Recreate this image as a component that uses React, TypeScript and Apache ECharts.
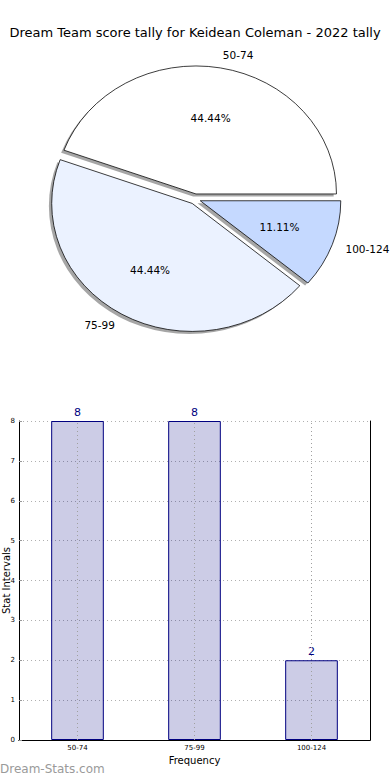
import React, { useEffect, useRef } from "react";
import * as echarts from "echarts";

const title = "Dream Team score tally for Keidean Coleman - 2022 tally";
const categories = ["50-74", "75-99", "100-124"];
const counts = [8, 8, 2];
const pieColors = ["#ffffff", "#ebf2ff", "#c5d9ff"];
const yMin = 0;
const yMax = 8;
const yInterval = 1;
const yAxisName = "Stat Intervals";
const xAxisName = "Frequency";
const watermark = "Dream-Stats.com";

const FONT = "DejaVu Sans";

export default function App() {
  const ref = useRef<HTMLDivElement>(null);

  useEffect(() => {
    document.body.style.margin = "0";
    if (!ref.current) return;
    const chart = echarts.init(ref.current, null, { renderer: "svg" });
    const total = counts.reduce((a, b) => a + b, 0);

    const pieRx = 140.5;
    const pieRy = 128;
    const pieCx = 195;
    const pieCy = 199;
    const explode = 0.04;
    const k = pieRy / pieRx;

    const renderPie = (params: any, api: any) => {
      const i = params.dataIndex;
      let start = 0;
      for (let j = 0; j < i; j++) start += counts[j];
      const v = api.value(0);
      const a1 = (start / total) * Math.PI * 2;
      const a2 = ((start + v) / total) * Math.PI * 2;
      const mid = (a1 + a2) / 2;
      const ox = explode * pieRx * Math.cos(mid);
      const oy = -explode * pieRx * Math.sin(mid);
      const vx = pieCx + ox;
      const vy = pieCy + k * oy;
      const cosm = Math.cos(mid);
      const sinm = Math.sin(mid);
      return {
        type: "group",
        children: [
          {
            type: "group",
            x: pieCx,
            y: pieCy,
            scaleY: k,
            children: [
              {
                type: "sector",
                shape: {
                  cx: ox - 2.8,
                  cy: oy + 2.6 / k,
                  r: pieRx,
                  r0: 0,
                  startAngle: -a2,
                  endAngle: -a1,
                  clockwise: true,
                },
                style: { fill: "rgba(77,77,77,0.5)" },
              },
              {
                type: "sector",
                shape: {
                  cx: ox,
                  cy: oy,
                  r: pieRx,
                  r0: 0,
                  startAngle: -a2,
                  endAngle: -a1,
                  clockwise: true,
                },
                style: {
                  fill: pieColors[i],
                  stroke: "#000000",
                  lineWidth: 0.8,
                  strokeNoScale: true,
                },
              },
            ],
          },
          {
            type: "text",
            x: vx + 1.1 * pieRx * cosm,
            y: vy - 1.1 * pieRy * sinm,
            style: {
              text: categories[i],
              fill: "#000",
              font: `10.5px "${FONT}"`,
              align: cosm > 0 ? "left" : "right",
              verticalAlign: "middle",
            },
          },
          {
            type: "text",
            x: vx + 0.6 * pieRx * cosm,
            y: vy - 0.6 * pieRy * sinm,
            style: {
              text: ((v / total) * 100).toFixed(2) + "%",
              fill: "#000",
              font: `10.5px "${FONT}"`,
              align: "center",
              verticalAlign: "middle",
            },
          },
        ],
      };
    };

    const option: any = {
      animation: false,
      backgroundColor: "#ffffff",
      textStyle: { fontFamily: FONT },
      title: {
        text: title,
        left: "center",
        top: 21,
        textStyle: { fontFamily: FONT, fontSize: 13, fontWeight: "normal", color: "#000" },
      },
      graphic: [
        {
          type: "text",
          left: 0,
          top: 763,
          style: {
            text: watermark,
            fill: "#9a9a9a",
            font: `12px "${FONT}"`,
          },
        },
      ],
      grid: {
        left: 19,
        right: 20,
        top: 421,
        bottom: 40,
        containLabel: false,
        outerBoundsMode: "none",
      },
      xAxis: [
        {
          type: "category",
          data: categories,
          position: "bottom",
          name: xAxisName,
          nameLocation: "middle",
          nameGap: 15,
          nameMoveOverlap: false,
          nameTextStyle: { fontFamily: FONT, fontSize: 10, color: "#000" },
          axisLine: { lineStyle: { color: "#000", width: 1 } },
          axisTick: { show: false },
          axisLabel: { fontFamily: FONT, fontSize: 7, color: "#000", margin: 4 },
          splitLine: { show: false },
        },
        {
          type: "category",
          data: categories,
          position: "top",
          axisLine: { show: true, lineStyle: { color: "#000", width: 1 } },
          axisTick: { show: false },
          axisLabel: { show: false },
          splitLine: { show: false },
        },
      ],
      yAxis: [
        {
          type: "value",
          min: yMin,
          max: yMax,
          interval: yInterval,
          position: "left",
          name: yAxisName,
          nameLocation: "middle",
          nameGap: 8,
          nameMoveOverlap: false,
          nameTextStyle: { fontFamily: FONT, fontSize: 10, color: "#000" },
          axisLine: { show: true, lineStyle: { color: "#000", width: 1 } },
          axisTick: { show: true, length: 3, inside: true, lineStyle: { color: "#999" } },
          axisLabel: { fontFamily: FONT, fontSize: 7, color: "#000", margin: 4 },
          splitLine: { show: true, lineStyle: { color: "#b0b0b0", type: [1, 3], width: 1 } },
        },
        {
          type: "value",
          min: yMin,
          max: yMax,
          interval: yInterval,
          position: "right",
          axisLine: { show: true, lineStyle: { color: "#000", width: 1 } },
          axisTick: { show: false },
          axisLabel: { show: false },
          splitLine: { show: false },
        },
      ],
      series: [
        {
          type: "custom",
          coordinateSystem: "none",
          renderItem: renderPie,
          data: counts.map((c) => [c]),
          silent: true,
        },
        {
          type: "bar",
          xAxisIndex: 0,
          yAxisIndex: 0,
          data: counts,
          barWidth: "45%",
          itemStyle: { color: "rgba(0,0,128,0.2)", borderColor: "#000080", borderWidth: 1 },
          label: {
            show: true,
            position: "top",
            distance: 3,
            color: "#000080",
            fontFamily: FONT,
            fontSize: 11,
          },
          markLine: {
            silent: true,
            symbol: "none",
            label: { show: false },
            lineStyle: { color: "#a0a0a0", type: [1, 3], width: 1 },
            data: categories.map((c) => ({ xAxis: c })),
          },
        },
      ],
    };

    chart.setOption(option);
    return () => chart.dispose();
  }, []);

  return <div ref={ref} style={{ width: 390, height: 780 }} />;
}
